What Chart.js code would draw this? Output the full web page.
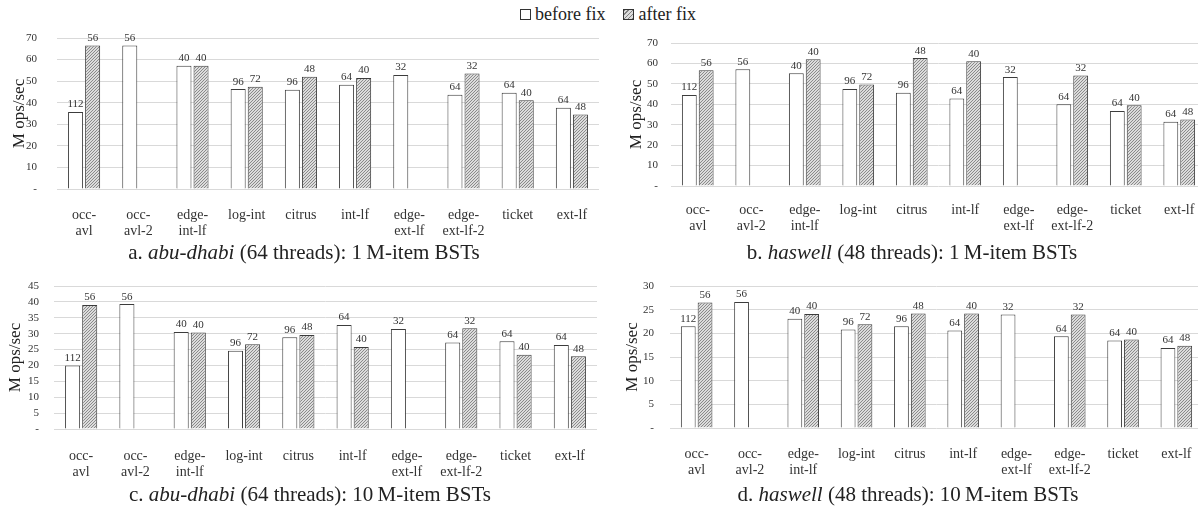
<!DOCTYPE html>
<html>
<head>
<meta charset="utf-8">
<script src="https://cdn.jsdelivr.net/npm/chart.js@4.4.1/dist/chart.umd.min.js"></script>
<style>
  html, body { margin: 0; padding: 0; background: #fff; }
  body { width: 1198px; height: 507px; position: relative; overflow: hidden; font-family: "Liberation Serif", "Times New Roman", serif; color: #222; }
  .panel { position: absolute; }
  .cap { position: absolute; font-size: 21px; white-space: nowrap; transform: translateX(-50%); line-height: 24px; }
  #legend { position: absolute; top: 4px; left: 520px; font-size: 18px; line-height: 20px; white-space: nowrap; }
  #legend .box { display: inline-block; width: 9px; height: 9px; border: 1px solid #333; vertical-align: 0px; margin-right: 4px; }
  #legend .hatch { background: repeating-linear-gradient(-45deg, #808080 0 1px, #dcdcdc 1px 3px); }
</style>
</head>
<body>
<div id="legend"><span class="box"></span>before fix&nbsp;&nbsp;&nbsp;&nbsp;<span class="box hatch"></span>after fix</div>

<div class="panel" id="wrap-a"><canvas id="chart-a"></canvas></div>
<div class="panel" id="wrap-b"><canvas id="chart-b"></canvas></div>
<div class="panel" id="wrap-c"><canvas id="chart-c"></canvas></div>
<div class="panel" id="wrap-d"><canvas id="chart-d"></canvas></div>

<div class="cap" style="left:304px; top:240px;">a. <i>abu-dhabi</i> (64 threads): 1&thinsp;M-item BSTs</div>
<div class="cap" style="left:912px; top:240px;">b. <i>haswell</i> (48 threads): 1&thinsp;M-item BSTs</div>
<div class="cap" style="left:310px; top:482px;">c. <i>abu-dhabi</i> (64 threads): 10&thinsp;M-item BSTs</div>
<div class="cap" style="left:908px; top:482px;">d. <i>haswell</i> (48 threads): 10&thinsp;M-item BSTs</div>

<script>
// categories (multi-line labels as in the figure)
const categories = [
    ['occ-', 'avl'], ['occ-', 'avl-2'], ['edge-', 'int-lf'], 'log-int', 'citrus',
    'int-lf', ['edge-', 'ext-lf'], ['edge-', 'ext-lf-2'], 'ticket', 'ext-lf'
];

// thread counts printed above the bars
const threadsBefore = [112, 56, 40, 96, 96, 64, 32, 64, 64, 64];
const threadsAfter  = [56, null, 40, 72, 48, 40, null, 32, 40, 48];

// throughput, M ops/sec
const abuDhabi1MBefore = [35.7, 66.5, 57.1, 46.3, 46.0, 48.3, 52.8, 43.7, 44.6, 37.7];
const abuDhabi1MAfter  = [66.5, null, 57.1, 47.4, 52.0, 51.5, null, 53.5, 41.1, 34.5];
const haswell1MBefore  = [44.6, 57.2, 55.2, 47.5, 45.7, 42.8, 53.3, 40.0, 36.7, 31.5];
const haswell1MAfter   = [56.6, null, 62.0, 49.7, 62.6, 61.1, null, 54.1, 39.5, 32.6];
const abuDhabi10MBefore = [20.0, 39.3, 30.5, 24.6, 28.9, 32.7, 31.5, 27.2, 27.6, 26.4];
const abuDhabi10MAfter  = [39.0, null, 30.4, 26.7, 29.6, 25.8, null, 31.7, 23.4, 22.9];
const haswell10MBefore  = [21.5, 26.6, 23.1, 20.8, 21.5, 20.6, 24.0, 19.4, 18.5, 16.9];
const haswell10MAfter   = [26.5, null, 24.1, 21.9, 24.2, 24.2, null, 24.0, 18.7, 17.4];

const FONT = '"Liberation Serif", "Times New Roman", serif';

// diagonal hatch for the "after fix" bars
function makeHatch() {
    const c = document.createElement('canvas');
    c.width = 3; c.height = 3;
    const g = c.getContext('2d');
    g.fillStyle = '#dcdcdc';
    g.fillRect(0, 0, 3, 3);
    g.fillStyle = '#8a8a8a';
    g.fillRect(2, 0, 1, 1);
    g.fillRect(1, 1, 1, 1);
    g.fillRect(0, 2, 1, 1);
    return g.createPattern(c, 'repeat');
}
const hatch = makeHatch();

// prints the thread count above each bar
const threadLabels = {
    id: 'threadLabels',
    afterDatasetsDraw(chart) {
        const ctx = chart.ctx;
        ctx.save();
        ctx.font = '11px ' + FONT;
        ctx.fillStyle = '#333';
        ctx.textAlign = 'center';
        ctx.textBaseline = 'bottom';
        chart.data.datasets.forEach((ds, di) => {
            const meta = chart.getDatasetMeta(di);
            meta.data.forEach((bar, i) => {
                if (ds.data[i] == null || ds.threads[i] == null) return;
                ctx.fillText(String(ds.threads[i]), bar.x, bar.y - 2);
            });
        });
        ctx.restore();
    }
};

function makeChart(cfg) {
    const wrap = document.getElementById('wrap-' + cfg.id);
    wrap.style.left = cfg.left + 'px';
    wrap.style.top = cfg.top + 'px';
    wrap.style.width = cfg.width + 'px';
    wrap.style.height = cfg.height + 'px';

    new Chart(document.getElementById('chart-' + cfg.id), {
        type: 'bar',
        data: {
            labels: categories,
            datasets: [{
                label: 'before fix',
                data: cfg.before,
                threads: threadsBefore,
                backgroundColor: '#ffffff',
                borderColor: '#3c3c3c',
                borderWidth: 1
            }, {
                label: 'after fix',
                data: cfg.after,
                threads: threadsAfter,
                backgroundColor: hatch,
                borderColor: '#3c3c3c',
                borderWidth: 1
            }]
        },
        options: {
            responsive: true,
            maintainAspectRatio: false,
            animation: false,
            categoryPercentage: 0.63,
            barPercentage: 0.88,
            layout: { padding: { left: cfg.padLeft, right: cfg.padRight, top: cfg.padTop, bottom: 0 } },
            plugins: { legend: { display: false }, tooltip: { enabled: false } },
            scales: {
                x: {
                    grid: { display: false },
                    border: { display: false },
                    ticks: {
                        color: '#333', padding: cfg.xPad, maxRotation: 0, autoSkip: false,
                        font: { family: FONT, size: 14, lineHeight: 1.15 }
                    },
                    afterFit: s => { s.height = cfg.xHeight; }
                },
                y: {
                    min: 0, max: cfg.yMax,
                    grid: { color: '#d9d9d9', drawTicks: false, lineWidth: 1 },
                    border: { display: false },
                    ticks: {
                        stepSize: cfg.yStep, color: '#333', padding: cfg.yPad, autoSkip: false,
                        font: { family: FONT, size: 11 },
                        callback: v => v === 0 ? '-' : v
                    },
                    title: {
                        display: true, text: 'M ops/sec', color: '#222',
                        font: { family: FONT, size: 17 }, padding: { top: 4, bottom: 0 }
                    },
                    // fixed axis width; drop the tick padding Chart.js adds above/below the plot
                    afterFit: s => { s.width = cfg.yWidth; s.paddingTop = 0; s.paddingBottom = 0; }
                }
            }
        },
        plugins: [threadLabels]
    });
}

makeChart({ id: 'a', left: 0, top: 26, width: 600, height: 215, padLeft: 5, padRight: 1, padTop: 12,
    xHeight: 52, xPad: 10, yWidth: 52, yPad: 20, yMax: 70, yStep: 10,
    before: abuDhabi1MBefore, after: abuDhabi1MAfter });
makeChart({ id: 'b', left: 600, top: 26, width: 610, height: 215, padLeft: 22, padRight: 4, padTop: 17,
    xHeight: 55, xPad: 8, yWidth: 49, yPad: 13, yMax: 70, yStep: 10,
    before: haswell1MBefore, after: haswell1MAfter });
makeChart({ id: 'c', left: 0, top: 270, width: 600, height: 215, padLeft: 1, padRight: 3, padTop: 16,
    xHeight: 56, xPad: 11, yWidth: 53, yPad: 15, yMax: 45, yStep: 5,
    before: abuDhabi10MBefore, after: abuDhabi10MAfter });
makeChart({ id: 'd', left: 600, top: 270, width: 610, height: 215, padLeft: 18, padRight: 7, padTop: 16,
    xHeight: 57, xPad: 10, yWidth: 52, yPad: 16, yMax: 30, yStep: 5,
    before: haswell10MBefore, after: haswell10MAfter });
</script>
</body>
</html>
